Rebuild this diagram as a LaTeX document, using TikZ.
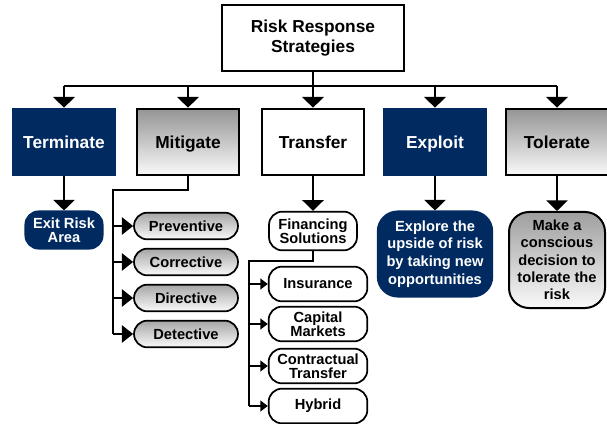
\documentclass[tikz,border=0pt]{standalone}
\usepackage{fontspec}
\setmainfont{Liberation Sans}
\usetikzlibrary{arrows.meta,positioning}
\definecolor{navy}{RGB}{0,42,96}

\begin{document}
\begin{tikzpicture}[
    x=0.75pt, y=-0.75pt,
    every node/.style={align=center, inner sep=1pt},
    head/.style={draw, line width=1.5pt, fill=white, minimum width=137pt, minimum height=50pt,
        font=\fontsize{13}{15.5}\selectfont\bfseries},
    strat/.style={line width=1.5pt, minimum width=76pt, minimum height=50pt,
        text height=10pt, text depth=0pt, font=\fontsize{13}{15}\selectfont\bfseries},
    dark/.style={fill=navy, draw=navy, text=white},
    shaded/.style={draw, top color=black!42, bottom color=black!2},
    plain/.style={draw, fill=white},
    pill/.style={line width=1.3pt, rounded corners=10pt, font=\fontsize{11}{10.5}\selectfont\bfseries},
    ctrl/.style={pill, draw, top color=black!35, bottom color=black!2, minimum width=78pt, minimum height=20pt},
    fin/.style={pill, draw, fill=white, minimum width=74pt, minimum height=26pt},
    line/.style={line width=1.6pt},
    subline/.style={line width=1.1pt},
    arrow/.style={line, -{Triangle[width=16pt,length=8pt]}},
    parrow/.style={line, -{Triangle[width=13pt,length=8.5pt]}},
    sarrow/.style={subline, -{Triangle[width=8pt,length=5.5pt]}}
]
\useasboundingbox (0,0) rectangle (607,424);

\node[head] (top) at (313,38) {Risk Response\\Strategies};

\node[strat, dark] (term) at (64,142) {Terminate};
\node[strat, shaded] (mit) at (188,142) {Mitigate};
\node[strat, plain] (trans) at (313,142) {Transfer};
\node[strat, dark] (expl) at (435,142) {Exploit};
\node[strat, shaded] (tol) at (557,142) {Tolerate};

\coordinate (busL) at (64,86);
\coordinate (busR) at (557,86);

\node[pill, dark, minimum width=58pt, minimum height=28pt] (exit) at (64,230) {Exit Risk\\Area};

\node[ctrl] (prev) at (186,226) {Preventive};
\node[ctrl] (corr) at (186,262) {Corrective};
\node[ctrl] (dir) at (186,298) {Directive};
\node[ctrl] (det) at (186,334) {Detective};
\coordinate (mitL) at (113,190);

\node[pill, draw, fill=white, minimum width=66pt, minimum height=29pt,
    font=\fontsize{11}{10.7}\selectfont\bfseries] (finsol) at (313,231) {Financing\\Solutions};
\node[fin] (ins) at (318,284) {Insurance};
\node[fin] (cap) at (318,324) {Capital\\Markets};
\node[fin] (con) at (318,366) {Contractual\\Transfer};
\node[fin] (hyb) at (318,406) {Hybrid};
\coordinate (finL) at (249,261);

\node[pill, dark, rounded corners=15pt, minimum width=86pt, minimum height=64pt,
    font=\fontsize{11}{13.3}\selectfont\bfseries] (explore) at (435,254)
    {Explore the\\upside of risk\\by taking new\\opportunities};
\node[pill, draw, line width=1.5pt, top color=black!38, bottom color=black!2, rounded corners=15pt,
    minimum width=72pt, minimum height=72pt,
    font=\fontsize{11}{13}\selectfont\bfseries] (decide) at (557,260)
    {Make a\\conscious\\decision to\\tolerate the\\risk};

\draw[line] (top.south) -- (top.south |- busL);
\draw[line] (busL) -- (busR);
\draw[arrow] (busL) -- (term.north);
\draw[arrow] (mit.north |- busL) -- (mit.north);
\draw[arrow] (trans.north |- busL) -- (trans.north);
\draw[arrow] (expl.north |- busL) -- (expl.north);
\draw[arrow] (busR) -- (tol.north);

\draw[arrow] (term.south) -- (exit.north);
\draw[arrow] (trans.south) -- (finsol.north);
\draw[arrow] (expl.south) -- (explore.north);
\draw[arrow] (tol.south) -- (decide.north);

\draw[line] (mit.south) |- (mitL) -- (mitL |- det.west);
\draw[parrow] (mitL |- prev.west) -- (prev.west);
\draw[parrow] (mitL |- corr.west) -- (corr.west);
\draw[parrow] (mitL |- dir.west) -- (dir.west);
\draw[parrow] (mitL |- det.west) -- (det.west);

\draw[subline] (finsol.south) |- (finL) -- (finL |- hyb.west);
\draw[sarrow] (finL |- ins.west) -- (ins.west);
\draw[sarrow] (finL |- cap.west) -- (cap.west);
\draw[sarrow] (finL |- con.west) -- (con.west);
\draw[sarrow] (finL |- hyb.west) -- (hyb.west);

\end{tikzpicture}
\end{document}
